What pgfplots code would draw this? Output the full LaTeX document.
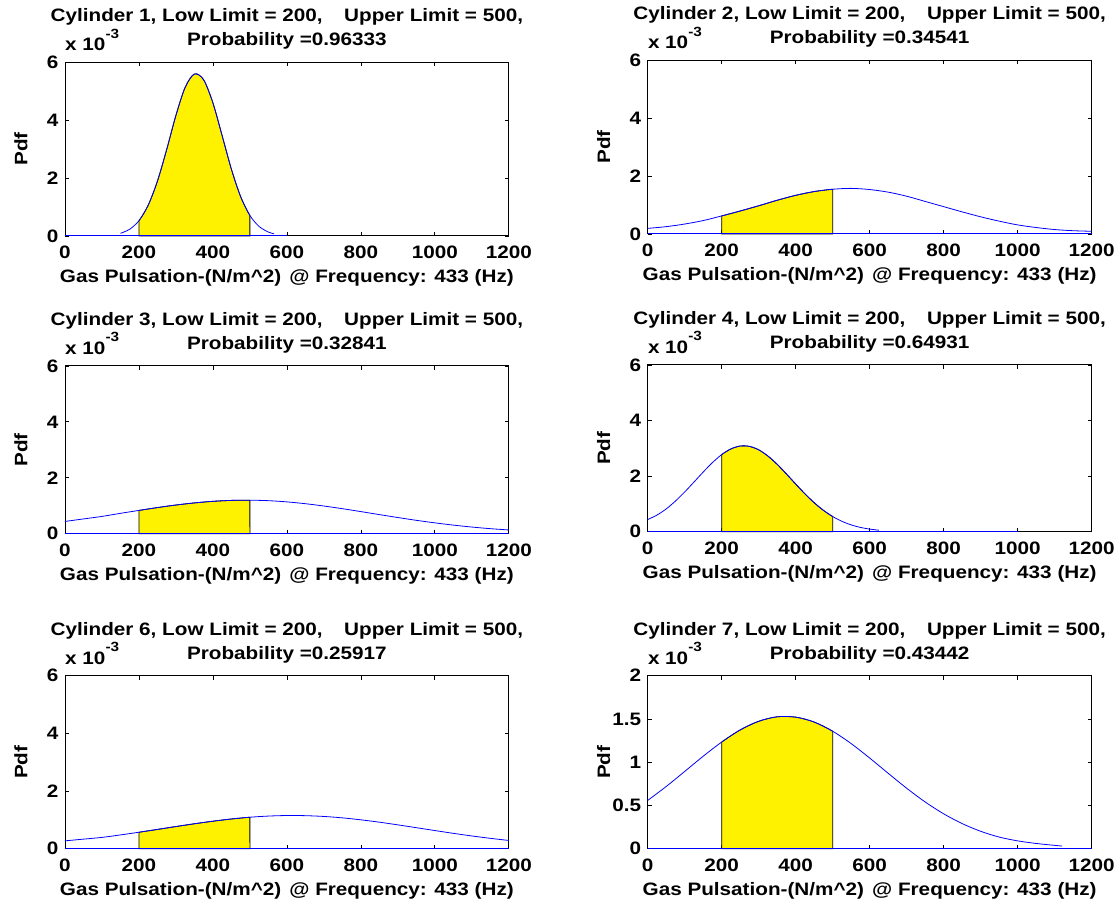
\documentclass[border=0pt]{standalone}
\usepackage{fontspec}
\setmainfont{Liberation Sans}[FakeStretch=1.15]
\usepackage{pgfplots}
\pgfplotsset{compat=1.18}
\usepgfplotslibrary{fillbetween}

\newcommand{\ttl}[2]{%
  \node[anchor=base, yshift=30pt] at (rel axis cs:0.5,1) {Cylinder #1, Low Limit = 200,\hspace{1.2em}Upper Limit = 500,};
  \node[anchor=base, yshift=12pt] at (rel axis cs:0.5,1) {Probability =#2};
  \node[anchor=base west, inner sep=0pt, yshift=8.25pt] at (rel axis cs:0,1) {x 10\raisebox{0.72em}{\fontsize{10}{10}\selectfont -3}};
}

\pgfplotsset{
  cyl/.style={
    scale only axis, width=333pt, clip=false, anchor=north west,
    xmin=0, xmax=1200, ymin=0,
    xtick={0,200,400,600,800,1000,1200},
    xticklabels={0,200,400,600,800,1000,1200},
    tick align=inside, major tick length=3pt,
    tick style={black, line width=0.5pt},
    axis line style={black, line width=0.6pt},
    font=\fontsize{13.5}{15}\selectfont\bfseries,
    xlabel={Gas Pulsation-(N/m\textasciicircum 2)\hspace{0.45em}@ Frequency: 433 (Hz)},
    ylabel={Pdf},
    xlabel style={at={(axis description cs:0.5,0)}, anchor=base, yshift=-35.25pt},
    ylabel style={at={(axis description cs:-0.099,0.5)}, anchor=center},
    xticklabel style={anchor=base, yshift=-17.25pt},
    yticklabel style={xshift=-1.5pt},
  },
  sixy/.style={ymax=6, ytick={0,2,4,6}, yticklabels={0,2,4,6}},
  pdfline/.style={blue, line width=0.6pt},
  patch/.style={fill=yellow, draw=black, line width=0.6pt},
}

\begin{document}
\begin{tikzpicture}
\path (0,0) rectangle (839.25pt,678.75pt);

% Cylinder 1
\begin{axis}[cyl, sixy, at={(48.75pt,632.25pt)}, height=130.5pt]
\addplot[pdfline, name path=base] coordinates {(0,0) (600,0)};
\addplot[pdfline, smooth, name path=pdf] coordinates {
(150,0.089) (175,0.229) (200,0.524) (225,1.057) (250,1.888) (275,2.979)
(300,4.157) (325,5.125) (350,5.586) (375,5.383) (400,4.587) (425,3.455)
(450,2.300) (475,1.354) (500,0.704) (525,0.324) (550,0.132) (565,0.072)};
\addplot[patch] fill between[of=pdf and base, soft clip={domain=200:500}];
\ttl{1}{0.96333}
\end{axis}

% Cylinder 2
\begin{axis}[cyl, sixy, at={(486pt,633.75pt)}, height=130.5pt]
\addplot[pdfline, name path=base] coordinates {(0,0) (1200,0)};
\addplot[pdfline, smooth, name path=pdf] coordinates {
(0,0.19) (50,0.25) (100,0.34) (150,0.46) (200,0.62) (250,0.79) (300,0.97)
(350,1.16) (400,1.33) (450,1.46) (500,1.54) (550,1.57) (600,1.53) (650,1.44)
(700,1.30) (750,1.12) (800,0.94) (850,0.76) (900,0.59) (950,0.44) (1000,0.31)
(1050,0.22) (1100,0.15) (1150,0.11) (1200,0.09)};
\addplot[patch] fill between[of=pdf and base, soft clip={domain=200:500}];
\ttl{2}{0.34541}
\end{axis}

% Cylinder 3
\begin{axis}[cyl, sixy, at={(48.75pt,404.25pt)}, height=126pt]
\addplot[pdfline, name path=base] coordinates {(0,0) (1200,0)};
\addplot[pdfline, smooth, name path=pdf] coordinates {
(0,0.44) (50,0.53) (100,0.62) (150,0.73) (200,0.834) (250,0.936) (300,1.027)
(350,1.102) (400,1.159) (450,1.192) (500,1.200) (550,1.182) (600,1.139)
(650,1.074) (700,0.991) (750,0.896) (800,0.792) (850,0.685) (900,0.580)
(950,0.480) (1000,0.390) (1050,0.309) (1100,0.240) (1150,0.182) (1200,0.136)};
\addplot[patch] fill between[of=pdf and base, soft clip={domain=200:500}];
\ttl{3}{0.32841}
\end{axis}

% Cylinder 4
\begin{axis}[cyl, sixy, at={(486pt,405pt)}, height=125.25pt]
\addplot[pdfline, name path=base] coordinates {(0,0) (1000,0)};
\addplot[pdfline, smooth, name path=pdf] coordinates {
(0,0.44) (25,0.60) (50,0.821) (75,1.105) (100,1.432) (125,1.786) (150,2.147)
(175,2.487) (200,2.774) (225,2.978) (250,3.081) (275,3.069) (300,2.945)
(325,2.721) (350,2.423) (375,2.077) (400,1.715) (425,1.364) (450,1.044)
(475,0.770) (500,0.548) (525,0.375) (550,0.247) (575,0.157) (600,0.096)
(625,0.056)};
\addplot[patch] fill between[of=pdf and base, soft clip={domain=200:500}];
\ttl{4}{0.64931}
\end{axis}

% Cylinder 6
\begin{axis}[cyl, sixy, at={(48.75pt,171.75pt)}, height=129.75pt]
\addplot[pdfline, name path=base] coordinates {(0,0) (1200,0)};
\addplot[pdfline, smooth, name path=pdf] coordinates {
(0,0.27) (50,0.33) (100,0.39) (150,0.476) (200,0.569) (250,0.667) (300,0.767)
(350,0.863) (400,0.952) (450,1.029) (500,1.090) (550,1.130) (600,1.149)
(650,1.144) (700,1.117) (750,1.068) (800,1.000) (850,0.918) (900,0.825)
(950,0.727) (1000,0.628) (1050,0.531) (1100,0.440) (1150,0.358) (1200,0.284)};
\addplot[patch] fill between[of=pdf and base, soft clip={domain=200:500}];
\ttl{6}{0.25917}
\end{axis}

% Cylinder 7
\begin{axis}[cyl, at={(486pt,171.75pt)}, height=129.75pt,
  ymax=2, ytick={0,0.5,1,1.5,2}, yticklabels={0,0.5,1,1.5,2}]
\addplot[pdfline, name path=base] coordinates {(0,0) (1200,0)};
\addplot[pdfline, smooth, name path=pdf] coordinates {
(0,0.558) (50,0.719) (100,0.893) (150,1.069) (200,1.233) (250,1.373)
(300,1.473) (350,1.525) (400,1.521) (450,1.464) (500,1.358) (550,1.215)
(600,1.048) (650,0.872) (700,0.699) (750,0.540) (800,0.403) (850,0.290)
(900,0.201) (950,0.134) (1000,0.090) (1050,0.060) (1100,0.038) (1120,0.030)};
\addplot[patch] fill between[of=pdf and base, soft clip={domain=200:500}];
\ttl{7}{0.43442}
\end{axis}
\end{tikzpicture}
\end{document}
